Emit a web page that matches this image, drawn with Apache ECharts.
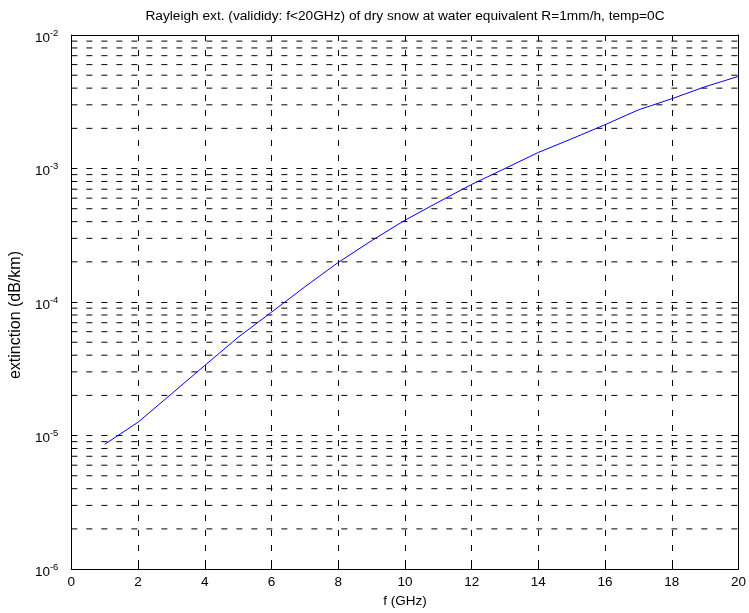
<!DOCTYPE html>
<html>
<head>
<meta charset="utf-8">
<script src="https://cdn.jsdelivr.net/npm/echarts@6/dist/echarts.min.js"></script>
<style>
html,body{margin:0;padding:0;background:#fff;}
#c{width:749px;height:613px;}
</style>
</head>
<body>
<div id="c"></div>
<script>
// ---- data ----
const titleText = 'Rayleigh ext. (valididy: f<20GHz) of dry snow at water equivalent R=1mm/h, temp=0C';
const xName = 'f (GHz)';
const yName = 'extinction (dB/km)';
const freq = [1, 2, 3, 4, 5, 6, 7, 8, 9, 10, 11, 12, 13, 14, 15, 16, 17, 18, 19, 20];
const extinction = [8.6e-6, 1.26e-5, 2.05e-5, 3.35e-5, 5.45e-5, 8.4e-5, 1.3e-4, 1.98e-4, 2.88e-4, 4.1e-4,
                    5.6e-4, 7.6e-4, 1.0e-3, 1.32e-3, 1.67e-3, 2.13e-3, 2.75e-3, 3.33e-3, 4.1e-3, 4.9e-3];
const xTicks = [0, 2, 4, 6, 8, 10, 12, 14, 16, 18, 20];
const yDecadeExponents = [-6, -5, -4, -3, -2];
const minorMantissas = [2, 3, 4, 5, 6, 7, 8, 9];

// minor log grid positions (2..9 in each decade)
const minorGrid = [];
for (let i = 0; i < yDecadeExponents.length - 1; i++) {
  for (const m of minorMantissas) minorGrid.push(m * Math.pow(10, yDecadeExponents[i]));
}

const FONT = '"Liberation Sans", Arial, sans-serif';
const dash = [6, 9];
const gridLineStyle = {color: '#000', width: 1, type: dash};
const xMin = xTicks[0], xMax = xTicks[xTicks.length - 1];

const minorSeries = minorGrid.map(v => ({
  type: 'line', xAxisIndex: 0, yAxisIndex: 0,
  data: [[xMin, v], [xMax, v]],
  showSymbol: false, symbol: 'none', silent: true,
  lineStyle: gridLineStyle, z: 1
}));

const chart = echarts.init(document.getElementById('c'), null, {renderer: 'canvas'});
chart.setOption({
  animation: false,
  backgroundColor: '#fff',
  title: {
    text: titleText,
    left: 400, top: 4, textAlign: 'center',
    textStyle: {fontFamily: FONT, fontSize: 13.7, fontWeight: 'normal', color: '#000'}
  },
  grid: {left: 61, right: 9, top: 35, bottom: 42, containLabel: false},
  xAxis: [{
    type: 'value', min: xMin, max: xMax, interval: 2,
    name: xName, nameLocation: 'middle', nameGap: 21,
    nameTextStyle: {fontFamily: FONT, fontSize: 13.5, color: '#000'},
    axisLine: {show: true, onZero: false, lineStyle: {color: '#000', width: 1}},
    axisTick: {show: true, inside: true, length: 5, lineStyle: {color: '#000'}},
    axisLabel: {fontFamily: FONT, fontSize: 13.5, color: '#000', margin: 6},
    splitLine: {show: true, lineStyle: gridLineStyle}
  }, {
    type: 'value', position: 'top', min: xMin, max: xMax, interval: 2,
    axisLine: {show: true, onZero: false, lineStyle: {color: '#000', width: 1}},
    axisTick: {show: true, inside: true, length: 5, lineStyle: {color: '#000'}},
    axisLabel: {show: false},
    splitLine: {show: false}
  }],
  yAxis: [{
    type: 'log', logBase: 10, min: Math.pow(10, yDecadeExponents[0]), max: Math.pow(10, yDecadeExponents[yDecadeExponents.length - 1]),
    name: yName, nameLocation: 'middle', nameGap: 42, nameRotate: 90,
    nameTextStyle: {fontFamily: FONT, fontSize: 16, color: '#000', padding: [0, 26, 0, 0]},
    axisLine: {show: true, onZero: false, lineStyle: {color: '#000', width: 1}},
    axisTick: {show: true, inside: true, length: 5, lineStyle: {color: '#000'}},
    axisLabel: {
      color: '#000', margin: 13,
      formatter: function (v) { return '{b|10}{s|' + Math.round(Math.log10(v)) + '}'; },
      rich: {
        b: {fontFamily: FONT, fontSize: 13.5, color: '#000', lineHeight: 14, padding: [6, 0, 0, 0]},
        s: {fontFamily: FONT, fontSize: 9.5, color: '#000', lineHeight: 10, verticalAlign: 'top'}
      }
    },
    splitLine: {show: true, lineStyle: gridLineStyle}
  }, {
    type: 'log', logBase: 10, position: 'right',
    min: Math.pow(10, yDecadeExponents[0]), max: Math.pow(10, yDecadeExponents[yDecadeExponents.length - 1]),
    axisLine: {show: true, onZero: false, lineStyle: {color: '#000', width: 1}},
    axisTick: {show: true, inside: true, length: 5, lineStyle: {color: '#000'}},
    axisLabel: {show: false},
    splitLine: {show: false}
  }],
  series: minorSeries.concat([{
    type: 'line',
    xAxisIndex: 0, yAxisIndex: 0,
    data: freq.map((f, i) => [f, extinction[i]]),
    showSymbol: false, symbol: 'none',
    lineStyle: {color: '#0000ff', width: 1},
    z: 5
  }])
});
</script>
</body>
</html>
